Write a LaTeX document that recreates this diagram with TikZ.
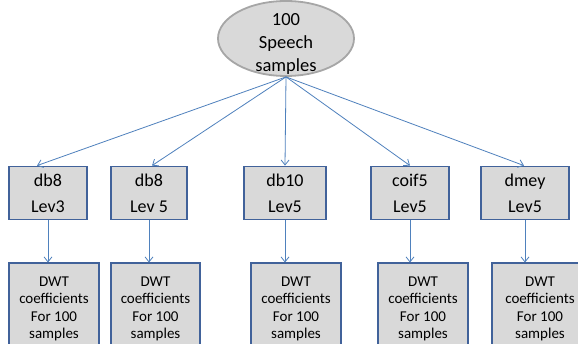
\documentclass[tikz,border=0pt]{standalone}
\usepackage{fontspec}
\setmainfont{Carlito}
\usepackage{xcolor}
\usetikzlibrary{arrows.meta, shapes.geometric}
\definecolor{boxfill}{HTML}{D9D9D9}
\definecolor{boxline}{HTML}{41629A}
\definecolor{linkblue}{HTML}{4F81BD}
\definecolor{ovalline}{HTML}{A6A6A6}
\tikzset{
  wavebox/.style={draw=boxline, fill=boxfill, line width=1.8pt, minimum width=78pt,
    minimum height=53pt, inner sep=0pt, align=center, font=\fontsize{18}{26}\selectfont},
  coefbox/.style={draw=boxline, fill=boxfill, line width=1.8pt, anchor=north,
    inner xsep=0pt, inner ysep=13pt},
  link/.style={draw=linkblue, line width=0.8pt, -{Straight Barb[length=5pt,width=8pt]}}
}
\newcommand{\coeftext}[1]{\parbox[c][110pt][t]{#1}{\centering
  \fontsize{15}{17.5}\selectfont DWT\\coefficients\\For 100\\samples}}

\begin{document}
\begin{tikzpicture}[x=1pt, y=-1pt]
        \clip (0,0) rectangle (578,344);
        \fill[white] (0,0) rectangle (578,344);

        % source
        \node[ellipse, draw=ovalline, fill=boxfill, line width=1.8pt, minimum width=136pt,
          minimum height=75pt, inner sep=0pt,
          label={[align=center, font=\fontsize{18.5}{23}\selectfont, yshift=-5pt]center:100\\Speech\\samples}]
          (src) at (286,38.5) {};

        % wavelets
        \node[wavebox] (w1) at (48,193) {db8\\Lev3};
        \node[wavebox, minimum width=76pt] (w2) at (149,193) {db8\\Lev 5};
        \node[wavebox, minimum width=82pt] (w3) at (285,193) {db10\\Lev5};
        \node[wavebox] (w4) at (410,193) {coif5\\Lev5};
        \node[wavebox, minimum width=88pt] (w5) at (525,193) {dmey\\Lev5};

        % coefficients
        \node[coefbox] (c1) at (54,262.5) {\coeftext{90pt}};
        \node[coefbox] (c2) at (155.5,262.5) {\coeftext{89pt}};
        \node[coefbox] (c3) at (296,262.5) {\coeftext{90pt}};
        \node[coefbox] (c4) at (423,262.5) {\coeftext{90pt}};
        \node[coefbox] (c5) at (540,262.5) {\coeftext{96pt}};

        \draw[link] (src.south) -- ([xshift=-11pt]w1.north);
        \draw[link] (src.south) -- ([xshift=3pt]w2.north);
        \draw[link] (src.south) -- (w3.north);
        \draw[link] (src.south) -- (w4.north);
        \draw[link] (src.south) -- ([xshift=-1pt]w5.north);

        \foreach \i in {1,...,5}
            \draw[link] (w\i.south) -- (w\i.south |- c\i.north);
    \end{tikzpicture}
\end{document}
